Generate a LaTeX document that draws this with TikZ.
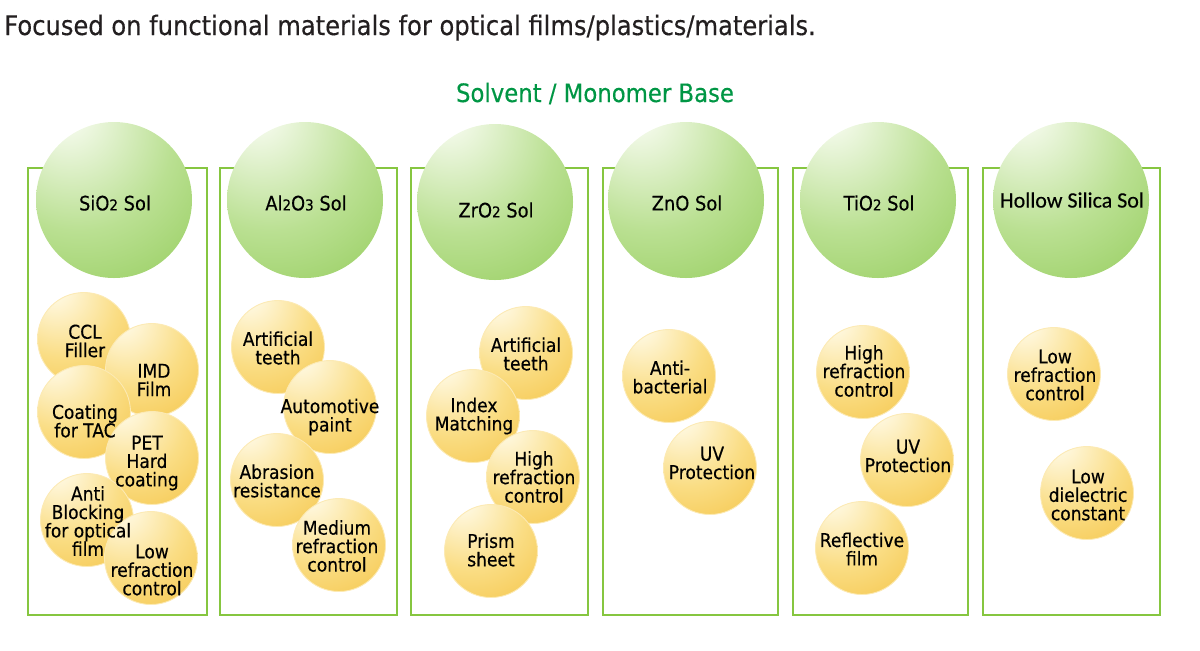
\documentclass[tikz,border=0pt]{standalone}
\usepackage{fontspec}
\setmainfont{DejaVu Sans}[FakeStretch=0.9, FakeBold=0.35]
\newfontfamily\hollowfont{Carlito}[FakeBold=0.35]
\usepackage{tikz}
\usetikzlibrary{positioning}
\usepackage{xcolor}

\definecolor{boxgreen}{RGB}{134,198,64}
\definecolor{headgreen}{RGB}{0,150,68}
\definecolor{titleblack}{RGB}{35,31,32}
% sol balls
\definecolor{solhi}{RGB}{246,251,238}
\definecolor{solmid}{RGB}{186,224,146}
\definecolor{soledge}{RGB}{136,198,74}
% use bubbles
\definecolor{usehi}{RGB}{255,250,230}
\definecolor{usemid}{RGB}{250,221,132}
\definecolor{useedge}{RGB}{243,189,54}
\definecolor{userim}{RGB}{252,234,180}

\pgfdeclareradialshading{solshade}{\pgfpoint{-17bp}{30bp}}{%
  color(0bp)=(solhi); color(4bp)=(solhi); color(30bp)=(solmid);
  color(60bp)=(soledge); color(90bp)=(soledge)}
\pgfdeclareradialshading{useshade}{\pgfpoint{-18bp}{30bp}}{%
  color(0bp)=(usehi); color(4bp)=(usehi); color(30bp)=(usemid);
  color(60bp)=(useedge); color(90bp)=(useedge)}

\newcommand{\chemsub}[1]{{\fontsize{8.5}{8.5}\selectfont #1}}

\begin{document}
\begin{tikzpicture}[x=0.02cm, y=-0.02cm,
    colbox/.style={draw=boxgreen, line width=1.1pt},
    solball/.style={shading=solshade},
    useball/.style={shading=useshade, draw=userim, line width=0.5pt},
    soltext/.style={font=\fontsize{11.3}{13}\selectfont, text=black, inner sep=0pt},
    usetext/.style={font=\fontsize{10.8}{10.5}\selectfont, align=center, text=black, inner sep=0pt}]
    \useasboundingbox (0,0) rectangle (1200,650);

    % =========================================================
    % HEADINGS
    % =========================================================
    \node[anchor=base west, inner sep=0pt, text=titleblack, font=\fontsize{15.3}{17}\selectfont]
        (title) at (4,35) {Focused on functional materials for optical films/plastics/materials.};
    \node[anchor=base, inner sep=0pt, text=headgreen, font=\fontsize{14.4}{16}\selectfont]
        (base) at (595,102) {Solvent / Monomer Base};

    % =========================================================
    % COLUMN BOXES
    % =========================================================
    \draw[colbox] (28,168) rectangle (207,615);
    \draw[colbox] (220,168) rectangle (397,615);
    \draw[colbox] (411,168) rectangle (588,615);
    \draw[colbox] (603,168) rectangle (778,615);
    \draw[colbox] (793,168) rectangle (968,615);
    \draw[colbox] (983,168) rectangle (1160,615);

    % =========================================================
    % SOL BALLS
    % =========================================================
    \shade[solball] (114,200) circle[radius=78];
    \node[soltext] (sio2) at (115,203) {SiO\chemsub{2} Sol};

    \shade[solball] (305,200) circle[radius=78];
    \node[soltext] (al2o3) at (306,203) {Al\chemsub{2}O\chemsub{3} Sol};

    \shade[solball] (495,202) circle[radius=78];
    \node[soltext] (zro2) at (496,210) {ZrO\chemsub{2} Sol};

    \shade[solball] (686,200) circle[radius=78];
    \node[soltext] (zno) at (687,203) {ZnO Sol};

    \shade[solball] (878,200) circle[radius=78];
    \node[soltext] (tio2) at (879,203) {TiO\chemsub{2} Sol};

    \shade[solball] (1071,200) circle[radius=78];
    \node[soltext, font=\hollowfont\fontsize{12.5}{14}\selectfont] (hollow) at (1072,200) {Hollow Silica Sol};

    % =========================================================
    % SiO2 USES
    % =========================================================
    \shadedraw[useball] (84,339) circle[radius=46.5];
    \shadedraw[useball] (152,370) circle[radius=46.5];
    \shadedraw[useball] (84,412) circle[radius=46.5];
    \shadedraw[useball] (152,458) circle[radius=46.5];
    \shadedraw[useball] (87,520) circle[radius=46.5];
    \shadedraw[useball] (151,558) circle[radius=46.5];
    \node[usetext] (ccl) at (85,341) {CCL\\Filler};
    \node[usetext] (imd) at (154,380) {IMD\\Film};
    \node[usetext] (tac) at (85,421) {Coating\\for TAC};
    \node[usetext] (pet) at (147,463) {PET\\Hard\\coating};
    \node[usetext] (antiblock) at (88,521) {Anti\\Blocking\\for optical\\film};
    \node[usetext] (sio2low) at (152,570) {Low\\refraction\\control};

    % =========================================================
    % Al2O3 USES
    % =========================================================
    \shadedraw[useball] (278,347) circle[radius=46.5];
    \shadedraw[useball] (330,407) circle[radius=46.5];
    \shadedraw[useball] (277,480) circle[radius=46.5];
    \shadedraw[useball] (339,545) circle[radius=46.5];
    \node[usetext] (al2o3teeth) at (278,348) {Artificial\\teeth};
    \node[usetext] (paint) at (330,417) {Automotive\\paint};
    \node[usetext] (abrasion) at (277,481) {Abrasion\\resistance};
    \node[usetext] (medium) at (337,546) {Medium\\refraction\\control};

    % =========================================================
    % ZrO2 USES
    % =========================================================
    \shadedraw[useball] (526,353) circle[radius=46.5];
    \shadedraw[useball] (473,416) circle[radius=46.5];
    \shadedraw[useball] (533,477) circle[radius=46.5];
    \shadedraw[useball] (491,551) circle[radius=46.5];
    \node[usetext] (zro2teeth) at (526,354) {Artificial\\teeth};
    \node[usetext] (index) at (474,416) {Index\\Matching};
    \node[usetext] (zro2high) at (534,477) {High\\refraction\\control};
    \node[usetext] (prism) at (491,550) {Prism\\sheet};

    % =========================================================
    % ZnO USES
    % =========================================================
    \shadedraw[useball] (669,376) circle[radius=46.5];
    \shadedraw[useball] (710,468) circle[radius=46.5];
    \node[usetext] (antibac) at (670,377) {Anti-\\bacterial};
    \node[usetext] (znouv) at (712,463) {UV\\Protection};

    % =========================================================
    % TiO2 USES
    % =========================================================
    \shadedraw[useball] (863,372) circle[radius=46.5];
    \shadedraw[useball] (907,460) circle[radius=46.5];
    \shadedraw[useball] (862,548) circle[radius=46.5];
    \node[usetext] (tio2high) at (864,371) {High\\refraction\\control};
    \node[usetext] (tio2uv) at (908,456) {UV\\Protection};
    \node[usetext] (reflective) at (862,549) {Reflective\\film};

    % =========================================================
    % HOLLOW SILICA USES
    % =========================================================
    \shadedraw[useball] (1054,374) circle[radius=46.5];
    \shadedraw[useball] (1087,493) circle[radius=46.5];
    \node[usetext] (hollowlow) at (1055,375) {Low\\refraction\\control};
    \node[usetext] (dielectric) at (1088,495) {Low\\dielectric\\constant};
\end{tikzpicture}
\end{document}
